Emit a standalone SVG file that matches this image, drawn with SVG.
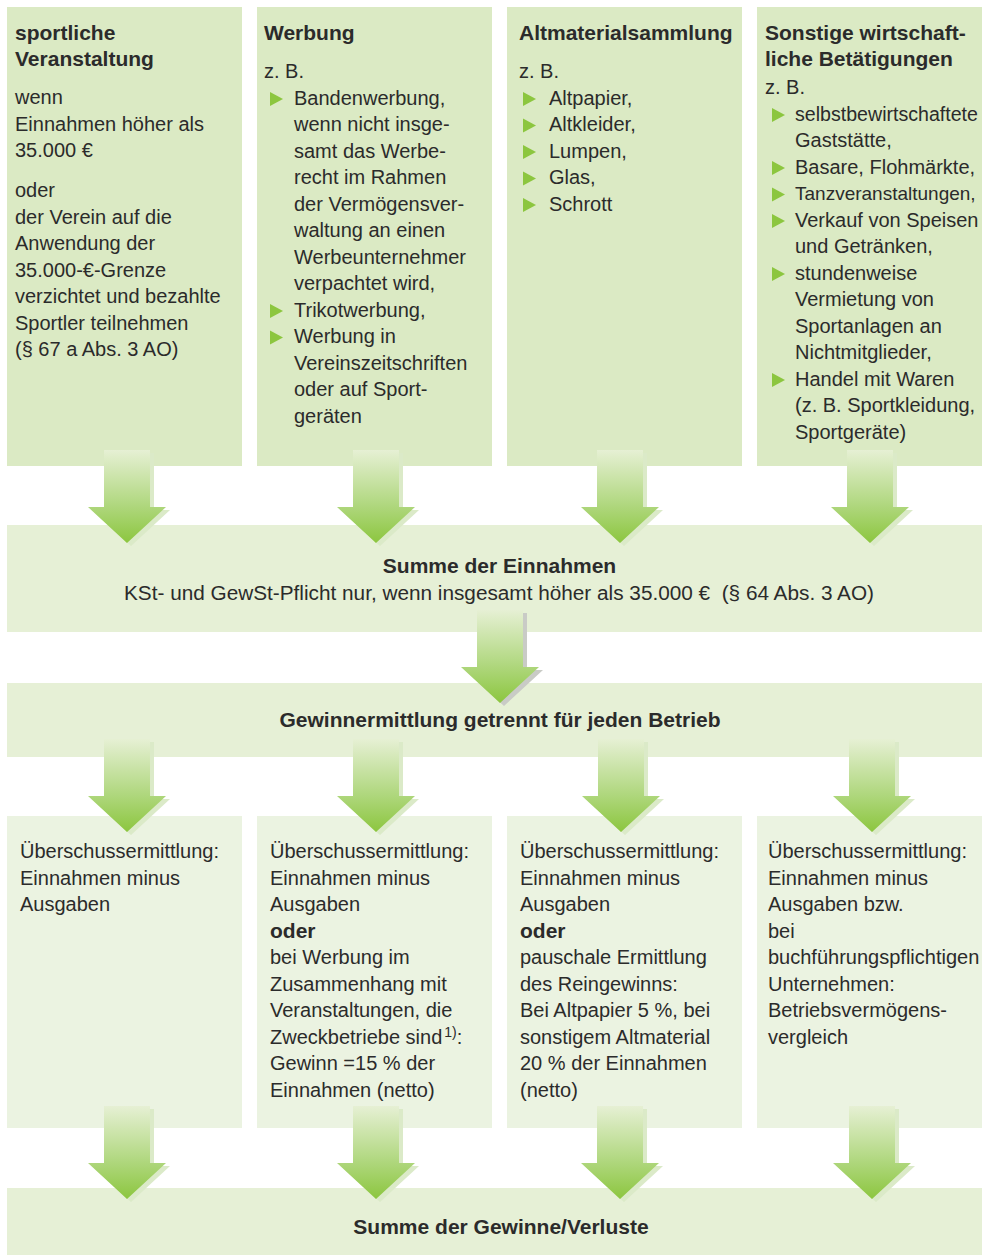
<svg xmlns="http://www.w3.org/2000/svg" xmlns:xlink="http://www.w3.org/1999/xlink" width="982" height="1255" viewBox="0 0 982 1255">
<style>
.t{font-family:"Liberation Sans",Arial,sans-serif;font-size:20px;fill:#2b2b2b}
.b{font-weight:bold;font-size:21px}
.top{fill:#dbeac4}
.mid{fill:#e6f0d6}
.low{fill:#ebf3e1}
.bul{fill:#8cc63f}
.shg{fill:#dbeac8}
.shy{fill:#c9cbc6}
</style>
<defs>
<linearGradient id="ag" x1="0" y1="0" x2="0" y2="1">
<stop offset="0" stop-color="#e6f0d4"/>
<stop offset="0.6" stop-color="#afd77d"/>
<stop offset="1" stop-color="#8cc63f"/>
</linearGradient>
<path id="arr" d="M-23,-93 H23 V-36 H39 L0,0 L-39,-36 H-23 Z"/>
<path id="bt" d="M0,-7 L13,0 L0,7 Z"/>
</defs>

<g id="box-sport">
<rect class="top" x="7" y="7" width="235" height="459"/>
<text class="t b" x="15" y="40">sportliche</text>
<text class="t b" x="15" y="66">Veranstaltung</text>
<text class="t" x="15" y="104">wenn</text>
<text class="t" x="15" y="130.5">Einnahmen höher als</text>
<text class="t" x="15" y="157">35.000 €</text>
<text class="t" x="15" y="197">oder</text>
<text class="t" x="15" y="223.5">der Verein auf die</text>
<text class="t" x="15" y="250">Anwendung der</text>
<text class="t" x="15" y="276.5">35.000-€-Grenze</text>
<text class="t" x="15" y="303">verzichtet und bezahlte</text>
<text class="t" x="15" y="329.5">Sportler teilnehmen</text>
<text class="t" x="15" y="356">(§ 67 a Abs. 3 AO)</text>
</g>

<g id="box-werbung">
<rect class="top" x="257" y="7" width="235" height="459"/>
<text class="t b" x="264" y="40">Werbung</text>
<text class="t" x="264" y="78">z. B.</text>
<use href="#bt" class="bul" x="270" y="99"/>
<text class="t" x="294" y="104.5">Bandenwerbung,</text>
<text class="t" x="294" y="131">wenn nicht insge-</text>
<text class="t" x="294" y="157.5">samt das Werbe-</text>
<text class="t" x="294" y="184">recht im Rahmen</text>
<text class="t" x="294" y="210.5">der Vermögensver-</text>
<text class="t" x="294" y="237">waltung an einen</text>
<text class="t" x="294" y="263.5">Werbeunternehmer</text>
<text class="t" x="294" y="290">verpachtet wird,</text>
<use href="#bt" class="bul" x="270" y="311"/>
<text class="t" x="294" y="316.5">Trikotwerbung,</text>
<use href="#bt" class="bul" x="270" y="337.5"/>
<text class="t" x="294" y="343">Werbung in</text>
<text class="t" x="294" y="369.5">Vereinszeitschriften</text>
<text class="t" x="294" y="396">oder auf Sport-</text>
<text class="t" x="294" y="422.5">geräten</text>
</g>

<g id="box-altmaterial">
<rect class="top" x="507" y="7" width="235" height="459"/>
<text class="t b" x="519" y="40">Altmaterialsammlung</text>
<text class="t" x="519" y="78">z. B.</text>
<use href="#bt" class="bul" x="523" y="99"/>
<text class="t" x="549" y="104.5">Altpapier,</text>
<use href="#bt" class="bul" x="523" y="125.5"/>
<text class="t" x="549" y="131">Altkleider,</text>
<use href="#bt" class="bul" x="523" y="152"/>
<text class="t" x="549" y="157.5">Lumpen,</text>
<use href="#bt" class="bul" x="523" y="178.5"/>
<text class="t" x="549" y="184">Glas,</text>
<use href="#bt" class="bul" x="523" y="205"/>
<text class="t" x="549" y="210.5">Schrott</text>
</g>

<g id="box-sonstige">
<rect class="top" x="757" y="7" width="225" height="459"/>
<text class="t b" x="765" y="40">Sonstige wirtschaft-</text>
<text class="t b" x="765" y="66">liche Betätigungen</text>
<text class="t" x="765" y="94">z. B.</text>
<use href="#bt" class="bul" x="772" y="115"/>
<text class="t" x="795" y="120.5" style="font-size:19.6px">selbstbewirtschaftete</text>
<text class="t" x="795" y="147">Gaststätte,</text>
<use href="#bt" class="bul" x="772" y="168"/>
<text class="t" x="795" y="173.5">Basare, Flohmärkte,</text>
<use href="#bt" class="bul" x="772" y="194.5"/>
<text class="t" x="795" y="200" style="font-size:19px">Tanzveranstaltungen,</text>
<use href="#bt" class="bul" x="772" y="221"/>
<text class="t" x="795" y="226.5">Verkauf von Speisen</text>
<text class="t" x="795" y="253">und Getränken,</text>
<use href="#bt" class="bul" x="772" y="274"/>
<text class="t" x="795" y="279.5">stundenweise</text>
<text class="t" x="795" y="306">Vermietung von</text>
<text class="t" x="795" y="332.5">Sportanlagen an</text>
<text class="t" x="795" y="359">Nichtmitglieder,</text>
<use href="#bt" class="bul" x="772" y="380"/>
<text class="t" x="795" y="385.5">Handel mit Waren</text>
<text class="t" x="795" y="412">(z. B. Sportkleidung,</text>
<text class="t" x="795" y="438.5">Sportgeräte)</text>
</g>

<g id="box-summe-einnahmen">
<rect class="mid" x="7" y="525" width="975" height="107"/>
<text class="t b" x="499.5" y="573" text-anchor="middle">Summe der Einnahmen</text>
<text class="t" x="124" y="600" textLength="750" lengthAdjust="spacingAndGlyphs" xml:space="preserve">KSt- und GewSt-Pflicht nur, wenn insgesamt höher als 35.000 €  (§ 64 Abs. 3 AO)</text>
</g>

<g id="box-gewinnermittlung">
<rect class="mid" x="7" y="683" width="975" height="74"/>
<text class="t b" x="500" y="727" text-anchor="middle">Gewinnermittlung getrennt für jeden Betrieb</text>
</g>

<g id="box-ueb1">
<rect class="low" x="7" y="816" width="235" height="312"/>
<text class="t" x="20" y="858">Überschussermittlung:</text>
<text class="t" x="20" y="884.5">Einnahmen minus</text>
<text class="t" x="20" y="911">Ausgaben</text>
</g>

<g id="box-ueb2">
<rect class="low" x="257" y="816" width="235" height="312"/>
<text class="t" x="270" y="858">Überschussermittlung:</text>
<text class="t" x="270" y="884.5">Einnahmen minus</text>
<text class="t" x="270" y="911">Ausgaben</text>
<text class="t b" x="270" y="937.5">oder</text>
<text class="t" x="270" y="964">bei Werbung im</text>
<text class="t" x="270" y="990.5">Zusammenhang mit</text>
<text class="t" x="270" y="1017">Veranstaltungen, die</text>
<text class="t" x="270" y="1043.5">Zweckbetriebe sind<tspan font-size="14" dx="2" dy="-7">1)</tspan><tspan dy="7">:</tspan></text>
<text class="t" x="270" y="1070">Gewinn =15 % der</text>
<text class="t" x="270" y="1096.5">Einnahmen (netto)</text>
</g>

<g id="box-ueb3">
<rect class="low" x="507" y="816" width="235" height="312"/>
<text class="t" x="520" y="858">Überschussermittlung:</text>
<text class="t" x="520" y="884.5">Einnahmen minus</text>
<text class="t" x="520" y="911">Ausgaben</text>
<text class="t b" x="520" y="937.5">oder</text>
<text class="t" x="520" y="964">pauschale Ermittlung</text>
<text class="t" x="520" y="990.5">des Reingewinns:</text>
<text class="t" x="520" y="1017">Bei Altpapier 5 %, bei</text>
<text class="t" x="520" y="1043.5">sonstigem Altmaterial</text>
<text class="t" x="520" y="1070">20 % der Einnahmen</text>
<text class="t" x="520" y="1096.5">(netto)</text>
</g>

<g id="box-ueb4">
<rect class="low" x="757" y="816" width="225" height="312"/>
<text class="t" x="768" y="858">Überschussermittlung:</text>
<text class="t" x="768" y="884.5">Einnahmen minus</text>
<text class="t" x="768" y="911">Ausgaben bzw.</text>
<text class="t" x="768" y="937.5">bei</text>
<text class="t" x="768" y="964">buchführungspflichtigen</text>
<text class="t" x="768" y="990.5">Unternehmen:</text>
<text class="t" x="768" y="1017">Betriebsvermögens-</text>
<text class="t" x="768" y="1043.5">vergleich</text>
</g>

<g id="box-summe-gewinne">
<rect class="mid" x="7" y="1188" width="975" height="67"/>
<text class="t b" x="501" y="1234" text-anchor="middle">Summe der Gewinne/Verluste</text>
</g>

<g id="connectors">
<use href="#arr" class="shg" x="131" y="546"/><use href="#arr" fill="url(#ag)" x="127" y="543"/>
<use href="#arr" class="shg" x="380" y="546"/><use href="#arr" fill="url(#ag)" x="376" y="543"/>
<use href="#arr" class="shg" x="624" y="546"/><use href="#arr" fill="url(#ag)" x="620" y="543"/>
<use href="#arr" class="shg" x="874" y="546"/><use href="#arr" fill="url(#ag)" x="870" y="543"/>

<use href="#arr" class="shy" x="504" y="706"/><use href="#arr" fill="url(#ag)" x="500" y="703"/>

<use href="#arr" class="shg" x="131" y="835"/><use href="#arr" fill="url(#ag)" x="127" y="832"/>
<use href="#arr" class="shg" x="380" y="835"/><use href="#arr" fill="url(#ag)" x="376" y="832"/>
<use href="#arr" class="shg" x="625" y="835"/><use href="#arr" fill="url(#ag)" x="621" y="832"/>
<use href="#arr" class="shg" x="876" y="835"/><use href="#arr" fill="url(#ag)" x="872" y="832"/>

<use href="#arr" class="shg" x="131" y="1202"/><use href="#arr" fill="url(#ag)" x="127" y="1199"/>
<use href="#arr" class="shg" x="380" y="1202"/><use href="#arr" fill="url(#ag)" x="376" y="1199"/>
<use href="#arr" class="shg" x="624" y="1202"/><use href="#arr" fill="url(#ag)" x="620" y="1199"/>
<use href="#arr" class="shg" x="876" y="1202"/><use href="#arr" fill="url(#ag)" x="872" y="1199"/>
</g>
</svg>
